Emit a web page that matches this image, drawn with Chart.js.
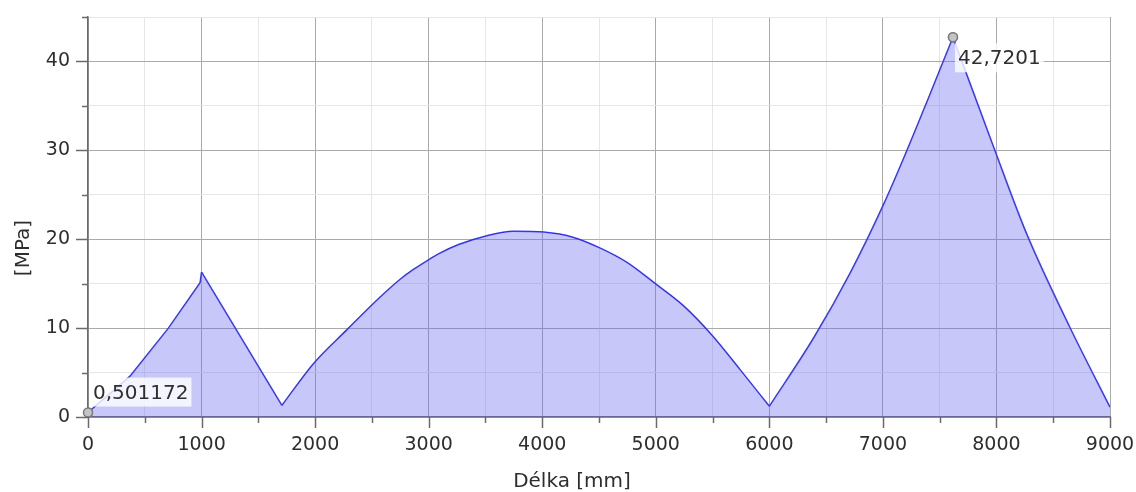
<!DOCTYPE html>
<html><head><meta charset="utf-8">
<style>html,body{margin:0;padding:0;background:#fff;overflow:hidden}canvas{display:block}</style>
<script src="https://cdn.jsdelivr.net/npm/chart.js@4.4.1/dist/chart.umd.min.js"></script>
</head><body>
<canvas id="c" width="1136" height="492"></canvas>
<script>
// ---- data ----
const lengthsMm = [0,370,708,987,1000,1707,1985,2279,2573,2749,2866,3013,3086,3264,3513,3747,4011,4276,4511,4746,4996,5245,5495,5744,6000,6395,6716,7009,7199,7389,7594,7617,7974,8266,8646,9000];
const stressMPa = [0.501172,4.6,10.0,15.1,16.3,1.3,6.0,9.8,13.5,15.5,16.6,17.8,18.35,19.4,20.4,20.9,20.8,20.2,19.0,17.4,15.0,12.5,9.2,5.3,1.2,9.0,16.3,24.0,29.6,35.5,42.0,42.7201,30.4,20.6,10.1,1.1];
// indices in the arrays above where the curve has a sharp corner
const cornerIdx = [0, 4, 5, 24, 31, 35];
// which of the pieces between corners are smooth curves
const smoothPiece = [false, false, true, true, true];
const markerX = [0, 7617];
const markerY = [0.501172, 42.7201];
const xTitle = 'Délka [mm]';
const yTitle = '[MPa]';
const xMajor = 1000, xMinor = 500, xMax = 9000;
const yMajor = 10, yMinor = 5, yMax = 45;

const FONT = '"DejaVu Sans", Verdana, sans-serif';
const TXT = '#2e2e2e';
const LINE = 'rgb(48,48,230)';

const tickPlugin = {
  id: 'ticksAndTitles',
  afterDraw(chart) {
    const {ctx, chartArea: a, scales: {x, y}} = chart;
    ctx.save();
    ctx.strokeStyle = '#6a6a6a';
    ctx.lineWidth = 1.5;
    x.ticks.forEach(t => {
      const px = Math.round(x.getPixelForValue(t.value)) + 0.5;
      const len = t.value % xMajor === 0 ? 11 : 6;
      ctx.beginPath(); ctx.moveTo(px, a.bottom); ctx.lineTo(px, a.bottom + len); ctx.stroke();
    });
    y.ticks.forEach(t => {
      const py = Math.round(y.getPixelForValue(t.value)) + 0.5;
      const len = t.value % yMajor === 0 ? 12 : 6;
      ctx.beginPath(); ctx.moveTo(a.left, py); ctx.lineTo(a.left - len, py); ctx.stroke();
    });
    ctx.fillStyle = TXT;
    ctx.font = '20px ' + FONT;
    ctx.textAlign = 'center';
    ctx.textBaseline = 'alphabetic';
    ctx.fillText(xTitle, 572, 487);
    ctx.translate(29, 248);
    ctx.rotate(-Math.PI / 2);
    ctx.fillText(yTitle, 0, 0);
    ctx.restore();
  }
};

const labelPlugin = {
  id: 'pointLabels',
  afterDatasetsDraw(chart) {
    const {ctx} = chart;
    const meta = chart.getDatasetMeta(chart.data.datasets.length - 1);
    ctx.save();
    ctx.font = '20px ' + FONT;
    ctx.textBaseline = 'alphabetic';
    ctx.textAlign = 'left';
    meta.data.forEach((el, i) => {
      const txt = String(markerY[i]).replace('.', ',');
      const w = ctx.measureText(txt).width + 6;
      const h = 29;
      let bx = el.x + 2, by;
      if (i === 0) by = el.y - 35; else by = el.y + 6;
      ctx.fillStyle = 'rgba(255,255,255,0.8)';
      ctx.fillRect(bx, by, w, h);
      ctx.fillStyle = TXT;
      ctx.fillText(txt, bx + 3, by + 21);
    });
    meta.data.forEach(el => el.draw(ctx));
    ctx.restore();
  }
};

const datasets = [];
// area under the whole curve (fill only)
datasets.push({
  data: lengthsMm.map((v, i) => ({x: v, y: stressMPa[i]})),
  borderWidth: 0,
  borderColor: 'rgba(0,0,0,0)',
  backgroundColor: 'rgba(100,100,240,0.36)',
  fill: 'origin',
  pointRadius: 0,
  tension: 0
});
// the outline, piece by piece between sharp corners
for (let k = 0; k < cornerIdx.length - 1; k++) {
  const a = cornerIdx[k], b = cornerIdx[k + 1];
  const pts = [];
  for (let i = a; i <= b; i++) pts.push({x: lengthsMm[i], y: stressMPa[i]});
  datasets.push({
    data: pts,
    borderColor: LINE,
    borderWidth: 1.5,
    fill: false,
    pointRadius: 0,
    cubicInterpolationMode: smoothPiece[k] ? 'monotone' : 'default',
    tension: 0
  });
}
datasets.push({
  type: 'scatter',
  data: markerX.map((v, i) => ({x: v, y: markerY[i]})),
  pointRadius: 4.5,
  pointBackgroundColor: '#c4c4c4',
  pointBorderColor: '#7c7c7c',
  pointBorderWidth: 1.5,
  showLine: false
});

function noScalePadding(s) {
  s.paddingTop = 0; s.paddingBottom = 0; s.paddingLeft = 0; s.paddingRight = 0;
}

new Chart(document.getElementById('c'), {
  type: 'line',
  data: {datasets},
  options: {
    responsive: false,
    devicePixelRatio: 1,
    animation: false,
    layout: {autoPadding: false, padding: {top: 17, right: 26, left: 0, bottom: 0}},
    plugins: {legend: {display: false}, tooltip: {enabled: false}, title: {display: false}},
    scales: {
      x: {
        type: 'linear', min: 0, max: xMax,
        ticks: {stepSize: xMinor, autoSkip: false, maxRotation: 0, padding: 17,
          color: TXT, font: {family: FONT, size: 19},
          callback: v => (v % xMajor === 0 ? String(v) : '')},
        grid: {drawTicks: false, lineWidth: 1,
          color: c => (c.tick && c.tick.value % xMajor === 0 ? '#aaaaaa' : '#e6e6e6')},
        border: {display: true, color: '#6a6a6a', width: 1.5},
        afterFit: s => { s.height = 75; noScalePadding(s); }
      },
      y: {
        type: 'linear', min: 0, max: yMax,
        ticks: {stepSize: yMinor, autoSkip: false, padding: 18,
          color: TXT, font: {family: FONT, size: 19},
          callback: v => (v % yMajor === 0 ? String(v) : '')},
        grid: {drawTicks: false, lineWidth: 1,
          color: c => (c.tick && c.tick.value % yMajor === 0 ? '#aaaaaa' : '#e6e6e6')},
        border: {display: true, color: '#6a6a6a', width: 1.5},
        afterFit: s => { s.width = 88; noScalePadding(s); }
      }
    }
  },
  plugins: [tickPlugin, labelPlugin]
});
</script>
</body></html>
